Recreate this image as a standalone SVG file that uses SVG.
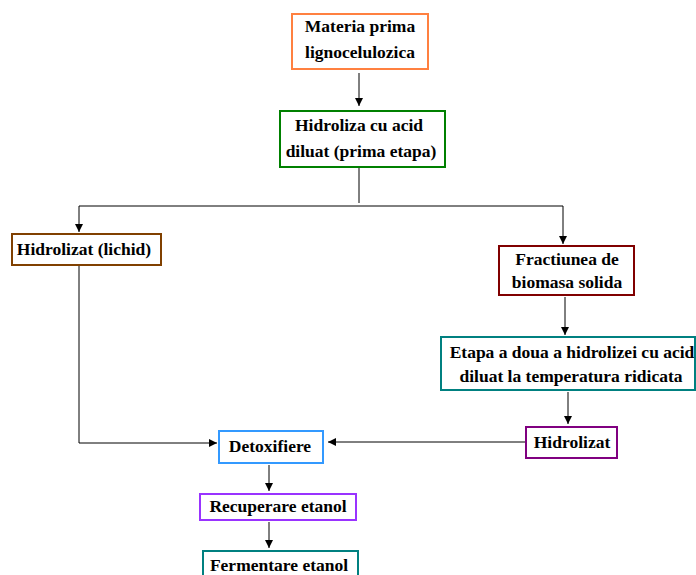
<svg xmlns="http://www.w3.org/2000/svg" width="696" height="575" viewBox="0 0 696 575">
  <style>
    .box { fill: #ffffff; stroke-width: 2; }
    .lbl { font-family: "Liberation Serif", "Times New Roman", serif; font-weight: bold; font-size: 17.5px; fill: #000000; text-anchor: middle; }
    .wire { fill: none; stroke: #000000; stroke-width: 1; }
  </style>
  <defs>
    <marker id="tip" viewBox="0 0 10 10" refX="10" refY="5" markerWidth="8" markerHeight="8" markerUnits="userSpaceOnUse" orient="auto">
      <path d="M0,0 L10,5 L0,10 Z" fill="#000000"/>
    </marker>
  </defs>
  <rect width="696" height="575" fill="#ffffff"/>

  <g id="connectors">
    <path class="wire" d="M359,73 V106" marker-end="url(#tip)"/>
    <path class="wire" d="M359,168 V203"/>
    <path class="wire" d="M79,206 H563"/>
    <path class="wire" d="M79,206 V232" marker-end="url(#tip)"/>
    <path class="wire" d="M563,206 V244" marker-end="url(#tip)"/>
    <path class="wire" d="M565,297 V335" marker-end="url(#tip)"/>
    <path class="wire" d="M568,392 V424" marker-end="url(#tip)"/>
    <path class="wire" d="M79,266 V443 H217" marker-end="url(#tip)"/>
    <path class="wire" d="M525,442 H328" marker-end="url(#tip)"/>
    <path class="wire" d="M269,465 V491" marker-end="url(#tip)"/>
    <path class="wire" d="M269,522 V548" marker-end="url(#tip)"/>
  </g>

  <g id="materia-prima">
    <rect class="box" x="292" y="14" width="136" height="55" stroke="#ff8040"/>
    <text class="lbl" x="360" y="32">Materia prima</text>
    <text class="lbl" x="360" y="58">lignocelulozica</text>
  </g>

  <g id="hidroliza-1">
    <rect class="box" x="280" y="111" width="165" height="56" stroke="#008000"/>
    <text class="lbl" x="359" y="131">Hidroliza cu acid</text>
    <text class="lbl" x="361" y="157">diluat (prima etapa)</text>
  </g>

  <g id="hidrolizat-lichid">
    <rect class="box" x="12" y="234" width="149" height="31" stroke="#804000"/>
    <text class="lbl" x="84" y="255">Hidrolizat (lichid)</text>
  </g>

  <g id="fractiunea">
    <rect class="box" x="499" y="246" width="135" height="49" stroke="#800000"/>
    <text class="lbl" x="567" y="265">Fractiunea de</text>
    <text class="lbl" x="567" y="288">biomasa solida</text>
  </g>

  <g id="hidroliza-2">
    <rect class="box" x="441" y="337" width="254" height="53" stroke="#008080"/>
    <text class="lbl" x="572" y="358">Etapa a doua a hidrolizei cu acid</text>
    <text class="lbl" x="571" y="382">diluat la temperatura ridicata</text>
  </g>

  <g id="hidrolizat">
    <rect class="box" x="526" y="427" width="91" height="31" stroke="#800080"/>
    <text class="lbl" x="572" y="448">Hidrolizat</text>
  </g>

  <g id="detoxifiere">
    <rect class="box" x="219" y="431" width="104" height="32" stroke="#3399ff"/>
    <text class="lbl" x="270" y="452">Detoxifiere</text>
  </g>

  <g id="recuperare">
    <rect class="box" x="200" y="494" width="156" height="26" stroke="#9933ff"/>
    <text class="lbl" x="278" y="512">Recuperare etanol</text>
  </g>

  <g id="fermentare">
    <rect class="box" x="203" y="551" width="155" height="30" stroke="#008080"/>
    <text class="lbl" x="279" y="571">Fermentare etanol</text>
  </g>
</svg>
